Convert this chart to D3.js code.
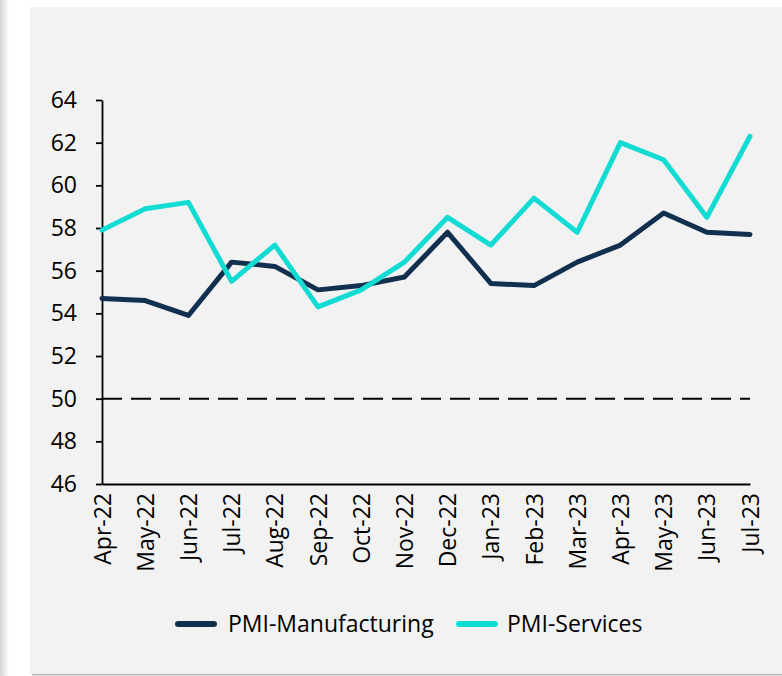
<!DOCTYPE html>
<html>
<head>
<meta charset="utf-8">
<script src="https://cdn.jsdelivr.net/npm/d3@7"></script>
<style>
  html, body { margin: 0; padding: 0; background: #ffffff; }
  svg { display: block; }
  text { font-family: "Open Sans", sans-serif; fill: #000; }
</style>
</head>
<body>
<svg id="chart" width="782" height="676"></svg>
<script>
// Monthly PMI readings, Apr-22 to Jul-23
const months = ["Apr-22","May-22","Jun-22","Jul-22","Aug-22","Sep-22","Oct-22","Nov-22",
                "Dec-22","Jan-23","Feb-23","Mar-23","Apr-23","May-23","Jun-23","Jul-23"];
const manufacturing = [54.7,54.6,53.9,56.4,56.2,55.1,55.3,55.7,57.8,55.4,55.3,56.4,57.2,58.7,57.8,57.7];
const services      = [57.9,58.9,59.2,55.5,57.2,54.3,55.1,56.4,58.5,57.2,59.4,57.8,62.0,61.2,58.5,62.3];
const yTicks = [46,48,50,52,54,56,58,60,62,64];
const threshold = 50;
const seriesNames = ["PMI-Manufacturing","PMI-Services"];
const seriesColors = ["#112f4e","#12dbd3"];

const svg = d3.select("#chart");

// Page edge shadow on the left and the grey panel
const defs = svg.append("defs");
const grad = defs.append("linearGradient").attr("id","edge").attr("x1","0").attr("x2","1");
grad.append("stop").attr("offset","0").attr("stop-color","#d6d6d6");
grad.append("stop").attr("offset","1").attr("stop-color","#ffffff");
svg.append("rect").attr("x",0).attr("y",0).attr("width",9).attr("height",676).attr("fill","url(#edge)");

const bgrad = defs.append("linearGradient").attr("id","bshadow").attr("x1","0").attr("x2","0").attr("y1","0").attr("y2","1");
bgrad.append("stop").attr("offset","0").attr("stop-color","#a8a8a8");
bgrad.append("stop").attr("offset","1").attr("stop-color","#e8e8e8");
svg.append("rect").attr("x",32).attr("y",674).attr("width",750).attr("height",2).attr("fill","url(#bshadow)");
svg.append("rect").attr("x",30).attr("y",7).attr("width",752).attr("height",667).attr("fill","#f2f2f2");

// Scales
const x = d3.scalePoint().domain(months).range([102, 750]);
const y = d3.scaleLinear().domain([46, 64]).range([484, 100]);

// Y axis
const yAxis = svg.append("g").attr("transform","translate(102,0)")
  .call(d3.axisLeft(y).tickValues(yTicks).tickSize(6).tickSizeOuter(0).tickPadding(19));
yAxis.select(".domain").attr("stroke","#000").attr("stroke-width",1.8);
yAxis.selectAll(".tick line").attr("stroke","#000").attr("stroke-width",1.8);
yAxis.selectAll(".tick text").attr("font-size",23).attr("font-family","Open Sans").attr("fill","#000");

// X axis
const xAxis = svg.append("g").attr("transform","translate(0,484)")
  .call(d3.axisBottom(x).tickSize(0).tickPadding(0));
xAxis.select(".domain").attr("stroke","#000").attr("stroke-width",1.8);
xAxis.selectAll(".tick text")
  .attr("font-size",23).attr("font-family","Open Sans").attr("fill","#000")
  .attr("text-anchor","end")
  .attr("transform","translate(0,9) rotate(-90)")
  .attr("x",0).attr("y",0).attr("dy","0.35em");

// Threshold line at 50
svg.append("line")
  .attr("x1",x(months[0])).attr("x2",x(months[months.length-1]))
  .attr("y1",y(threshold)).attr("y2",y(threshold))
  .attr("stroke","#000").attr("stroke-width",2).attr("stroke-dasharray","20,9");

// Series lines
const line = d3.line().x((d,i) => x(months[i])).y(d => y(d));
[manufacturing, services].forEach((vals, k) => {
  svg.append("path").datum(vals)
    .attr("d", line)
    .attr("fill","none")
    .attr("stroke", seriesColors[k])
    .attr("stroke-width",5)
    .attr("stroke-linejoin","round")
    .attr("stroke-linecap","round");
});

// Legend
const legendY = 624;
const legendItems = [{x0:178, tx:228}, {x0:459, tx:507}];
legendItems.forEach((it, k) => {
  svg.append("line")
    .attr("x1", it.x0).attr("x2", it.x0 + 36)
    .attr("y1", legendY).attr("y2", legendY)
    .attr("stroke", seriesColors[k]).attr("stroke-width",6).attr("stroke-linecap","round");
  svg.append("text")
    .attr("x", it.tx).attr("y", legendY).attr("dy","0.35em")
    .attr("font-size",23)
    .text(seriesNames[k]);
});
</script>
</body>
</html>
